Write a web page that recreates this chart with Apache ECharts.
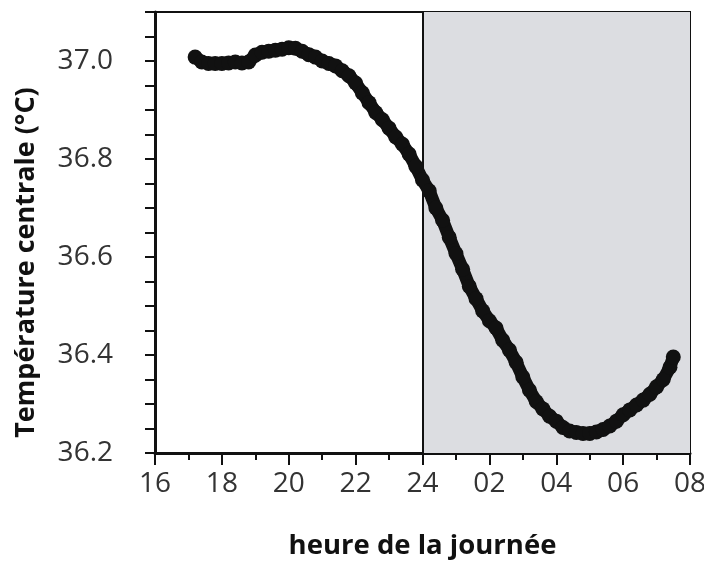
<!DOCTYPE html>
<html>
<head>
<meta charset="utf-8">
<script src="https://cdn.jsdelivr.net/npm/echarts@6/dist/echarts.min.js"></script>
<style>html,body{margin:0;padding:0;background:#fff}#c{width:704px;height:566px}</style>
</head>
<body>
<div id="c"></div>
<script>
// hour of day (continuous, 24 = midnight, 32 = 08h)
const hours = [17.2,17.4,17.6,17.8,18.0,18.2,18.4,18.6,18.8,19.0,19.2,19.4,19.6,19.8,20.0,20.2,20.4,20.6,20.8,21.0,21.2,21.4,21.6,21.8,22.0,22.2,22.4,22.6,22.8,23.0,23.2,23.4,23.6,23.8,24.0,24.2,24.4,24.6,24.8,25.0,25.2,25.4,25.6,25.8,26.0,26.2,26.4,26.6,26.8,27.0,27.2,27.4,27.6,27.8,28.0,28.2,28.4,28.6,28.8,29.0,29.2,29.4,29.6,29.8,30.0,30.2,30.4,30.6,30.8,31.0,31.2,31.4,31.5];
// core temperature (°C)
const temps = [37.008,36.998,36.995,36.995,36.995,36.996,36.998,36.996,36.998,37.012,37.018,37.020,37.022,37.024,37.027,37.026,37.020,37.013,37.008,37.000,36.995,36.990,36.980,36.970,36.955,36.935,36.915,36.895,36.880,36.863,36.845,36.830,36.810,36.785,36.757,36.735,36.700,36.675,36.640,36.607,36.575,36.540,36.515,36.490,36.470,36.455,36.430,36.410,36.385,36.355,36.328,36.305,36.290,36.275,36.265,36.252,36.245,36.242,36.240,36.240,36.243,36.248,36.255,36.265,36.278,36.288,36.298,36.308,36.320,36.335,36.350,36.375,36.396];
const xTickValues = [16,18,20,22,24,26,28,30,32];
const xTickLabels = ['16','18','20','22','24','02','04','06','08'];
const yTickValues = [36.2,36.4,36.6,36.8,37.0];
const yTickLabels = ['36.2','36.4','36.6','36.8','37.0'];
const nightStart = 24, nightEnd = 32;
const xTitle = 'heure de la journée';
const yTitle = 'Température centrale (°C)';

const labelFont = "'Open Sans',sans-serif";
const chart = echarts.init(document.getElementById('c'), null, {renderer:'canvas'});
chart.setOption({
  animation: false,
  grid: {left:155, right:14, top:12, bottom:113, show:true, borderColor:'#111', borderWidth:2, backgroundColor:'transparent', containLabel:false, outerBoundsMode:'none'},
  xAxis: {
    type:'value', min:16, max:32, interval:2,
    axisLine:{lineStyle:{color:'#111', width:3}},
    axisTick:{length:12, lineStyle:{color:'#111', width:2}},
    minorTick:{show:true, splitNumber:2, length:7, lineStyle:{color:'#111', width:2}},
    splitLine:{show:false},
    axisLabel:{margin:17, fontSize:28, fontFamily:labelFont, color:'#333', hideOverlap:false,
      formatter: v => { const i = xTickValues.findIndex(t => Math.abs(t - v) < 1e-6); return i >= 0 ? xTickLabels[i] : ''; }},
    name: xTitle, nameLocation:'middle', nameGap:79,
    nameTextStyle:{fontSize:27.5, fontWeight:'bold', fontFamily:"'Open Sans',sans-serif", color:'#111'}
  },
  yAxis: {
    type:'value', min:36.2, max:37.1, interval:0.05,
    axisLine:{lineStyle:{color:'#111', width:3}},
    axisTick:{length:10, lineStyle:{color:'#111', width:2}},
    splitLine:{show:false},
    axisLabel:{margin:42, fontSize:28, fontFamily:labelFont, color:'#333',
      formatter: v => { const i = yTickValues.findIndex(t => Math.abs(t - v) < 1e-6); return i >= 0 ? yTickLabels[i] : ''; }},
    name: yTitle, nameLocation:'middle', nameGap:115,
    nameTextStyle:{fontSize:27, fontWeight:'bold', fontFamily:"'Open Sans',sans-serif", color:'#111', padding:[0,60,0,0]}
  },
  series: [{
    type:'line',
    data: hours.map((h,i) => [h, temps[i]]),
    symbol:'circle', symbolSize:15,
    itemStyle:{color:'#111'},
    lineStyle:{color:'#111', width:13, cap:'round', join:'round'},
    z:3,
    markArea:{silent:true, itemStyle:{color:'#dcdde1'}, data:[[{xAxis:nightStart},{xAxis:nightEnd}]]},
    markLine:{silent:true, symbol:'none', label:{show:false}, lineStyle:{color:'#111', width:2, type:'solid'}, data:[{xAxis:nightStart}]}
  }]
});
</script>
</body>
</html>
